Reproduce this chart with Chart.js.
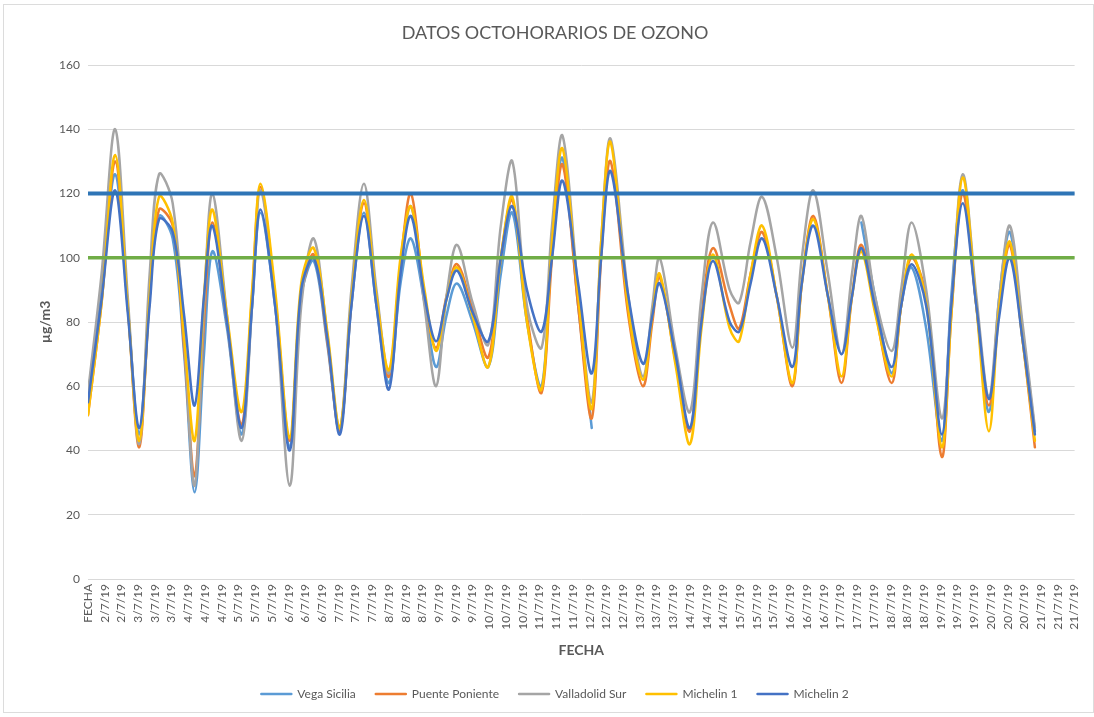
<!DOCTYPE html>
<html lang="es">
<head>
<meta charset="utf-8">
<title>Datos octohorarios de ozono</title>
<script src="https://cdn.jsdelivr.net/npm/chart.js@4.4.1/dist/chart.umd.min.js"></script>
<style>
    html, body { margin: 0; padding: 0; background: #fff; }
    #wrap { position: relative; width: 1094px; height: 717px; }
    #frame { position: absolute; left: 3px; top: 4px; right: 0; bottom: 4px; border: 1px solid #dcdcdc; pointer-events: none; }
</style>
</head>
<body>
<div id="wrap">
    <canvas id="ozono" width="1094" height="717"></canvas>
    <div id="frame"></div>
</div>
<script>
// Etiquetas del eje X (una cada 8 horas)
const etiquetasX = ['FECHA',
    '2/7/19', '2/7/19',
    '3/7/19', '3/7/19', '3/7/19', '4/7/19', '4/7/19', '4/7/19',
    '5/7/19', '5/7/19', '5/7/19', '6/7/19', '6/7/19', '6/7/19',
    '7/7/19', '7/7/19', '7/7/19', '8/7/19', '8/7/19', '8/7/19',
    '9/7/19', '9/7/19', '9/7/19', '10/7/19', '10/7/19', '10/7/19',
    '11/7/19', '11/7/19', '11/7/19', '12/7/19', '12/7/19', '12/7/19',
    '13/7/19', '13/7/19', '13/7/19', '14/7/19', '14/7/19', '14/7/19',
    '15/7/19', '15/7/19', '15/7/19', '16/7/19', '16/7/19', '16/7/19',
    '17/7/19', '17/7/19', '17/7/19', '18/7/19', '18/7/19', '18/7/19',
    '19/7/19', '19/7/19', '19/7/19', '20/7/19', '20/7/19', '20/7/19',
    '21/7/19', '21/7/19', '21/7/19'];

// Horas (desde el inicio de la serie) de los puntos leidos
const horas = [0, 6.5, 13, 19, 24.5, 29.5, 34, 40.5, 46, 51, 55.5, 59.5, 66.5, 73.5, 78.5, 82.5,
    89.5, 96.5, 102, 108, 114.5, 120.5, 126, 132, 138, 144, 149.5, 154.5, 161, 166.5, 171.5, 176.5,
    184, 191.5, 197.5, 203, 210, 217, 222, 227, 234.5, 241, 245.5, 250, 258.5, 265.5, 270, 273.5,
    281, 288, 293.5, 299, 307, 311.5, 317, 322.5, 329.5, 337, 341.5, 347, 354, 360.5, 365.5, 370,
    376.5, 384.5, 389, 394, 401, 408.5, 413, 418.5, 425, 431, 436, 441, 447, 453];

const vegaSicilia = [57, 90, 126, 85, 45, 88, 113, 106, 70, 27, 70, 102, 78, 45, 85, 114,
    85, 41, 88, 99, 73, 46, 85, 114, 85, 61, 92, 106, 86, 66, 82, 92,
    80, 66, 95, 114, 80, 60, 105, 131, 85, 47, null, null, null, null, null, null,
    null, null, null, null, null, null, null, null, null, null, null, null, null, null, null, 111,
    88, 64, 85, 97, 78, 43, 88, 121, 85, 52, 88, 108, 78, 46];

const puentePoniente = [51, 86, 130, 85, 41, 88, 115, 110, 72, 32, 80, 111, 80, 48, 88, 122,
    88, 43, 88, 101, 74, 46, 86, 117, 87, 63, 98, 120, 88, 72, 88, 98,
    84, 69, 100, 118, 82, 58, 100, 129, 85, 50, 100, 130, 82, 60, 80, 94,
    68, 46, 82, 103, 85, 78, 95, 108, 88, 60, 92, 113, 88, 61, 88, 104,
    84, 61, 85, 100, 88, 38, 82, 120, 85, 54, 85, 104, 75, 41];

const valladolidSur = [58, 95, 140, 88, 42, 95, 126, 117, 75, 29, 85, 120, 82, 43, 85, 121,
    86, 29, 85, 106, 76, 47, 90, 123, 90, 64, 97, 116, 85, 60, 88, 104,
    86, 73, 110, 130, 85, 72, 110, 138, 90, 55, 105, 137, 88, 63, 85, 100,
    72, 52, 88, 111, 90, 86, 105, 119, 100, 72, 100, 121, 95, 70, 95, 113,
    88, 71, 90, 111, 90, 50, 85, 126, 88, 57, 88, 110, 80, 47];

const michelin1 = [51, 86, 132, 85, 43, 88, 119, 111, 75, 43, 88, 115, 82, 52, 90, 123,
    90, 44, 92, 103, 77, 47, 87, 118, 88, 65, 100, 116, 90, 71, 87, 97,
    82, 66, 100, 119, 80, 59, 105, 134, 88, 53, 105, 136, 84, 62, 82, 95,
    67, 42, 78, 101, 78, 74, 95, 110, 88, 61, 92, 112, 88, 63, 88, 102,
    83, 63, 85, 101, 86, 41, 82, 125, 85, 46, 85, 105, 75, 43];

const michelin2 = [55, 87, 121, 83, 47, 85, 112, 108, 82, 54, 88, 110, 80, 47, 85, 115,
    85, 40, 90, 100, 75, 45, 85, 113, 85, 59, 95, 113, 88, 74, 87, 96,
    83, 74, 100, 116, 90, 77, 100, 124, 92, 64, 100, 127, 88, 67, 82, 92,
    70, 47, 80, 99, 80, 77, 92, 106, 88, 66, 92, 110, 88, 70, 88, 103,
    85, 66, 85, 98, 85, 45, 85, 117, 85, 56, 82, 100, 75, 45];

// Valores de referencia (lineas horizontales)
const valorObjetivo = 120;
const valorGuia = 100;

const TEXTO = '#595959';
const FUENTE = 'Lato, "Open Sans", sans-serif';

function serie(nombre, valores, color, orden) {
    return {
        label: nombre,
        data: horas.map((h, i) => ({ x: h, y: valores[i] })),
        borderColor: color,
        backgroundColor: color,
        borderWidth: 2.5,
        order: orden
    };
}

function referencia(valor, color, ancho) {
    return {
        label: 'ref ' + valor,
        data: [{ x: 0, y: valor }, { x: 472, y: valor }],
        borderColor: color,
        backgroundColor: color,
        borderWidth: ancho,
        tension: 0,
        order: 0
    };
}

const ctx = document.getElementById('ozono').getContext('2d');
const chart = new Chart(ctx, {
    type: 'line',
    data: {
        datasets: [
            serie('Vega Sicilia', vegaSicilia, '#5B9BD5', 5),
            serie('Puente Poniente', puentePoniente, '#ED7D31', 4),
            serie('Valladolid Sur', valladolidSur, '#A5A5A5', 3),
            serie('Michelin 1', michelin1, '#FFC000', 2),
            serie('Michelin 2', michelin2, '#4472C4', 1),
            referencia(valorObjetivo, '#2E75B6', 4),
            referencia(valorGuia, '#70AD47', 3.5)
        ]
    },
    options: {
        responsive: false,
        animation: false,
        layout: { padding: { left: 27, right: 11, top: 0, bottom: 7 } },
        elements: {
            point: { radius: 0 },
            line: { tension: 0.35, borderCapStyle: 'round', borderJoinStyle: 'round' }
        },
        plugins: {
            title: {
                display: true,
                text: 'DATOS OCTOHORARIOS DE OZONO',
                color: TEXTO,
                font: { family: FUENTE, size: 18, weight: 'normal' },
                padding: { top: 22, bottom: 21.4 }
            },
            legend: {
                position: 'bottom',
                labels: {
                    color: TEXTO,
                    font: { family: FUENTE, size: 12 },
                    boxWidth: 30,
                    boxHeight: 0,
                    padding: 20,
                    filter: item => item.datasetIndex < 5,
                    sort: (a, b) => a.datasetIndex - b.datasetIndex
                }
            },
            tooltip: { enabled: false }
        },
        scales: {
            x: {
                type: 'linear',
                min: 0,
                max: 472,
                grid: { display: false, drawTicks: false },
                border: { display: false },
                ticks: {
                    stepSize: 8,
                    autoSkip: false,
                    minRotation: 90,
                    maxRotation: 90,
                    padding: 5,
                    color: TEXTO,
                    font: { family: FUENTE, size: 12 },
                    callback: v => etiquetasX[Math.round(v / 8)]
                },
                title: {
                    display: true,
                    text: 'FECHA',
                    color: TEXTO,
                    font: { family: FUENTE, size: 14, weight: 'bold' },
                    padding: { top: 0, bottom: 9.6 }
                },
                afterFit: s => { s.height = 89; }
            },
            y: {
                min: 0,
                max: 160,
                grid: { color: '#d9d9d9', drawTicks: false },
                border: { display: false },
                ticks: {
                    stepSize: 20,
                    padding: 8,
                    color: TEXTO,
                    font: { family: FUENTE, size: 12 }
                },
                title: {
                    display: true,
                    text: 'µg/m3',
                    color: TEXTO,
                    font: { family: FUENTE, size: 14, weight: 'bold' },
                    padding: { top: 10, bottom: 0 }
                },
                afterFit: s => { s.width = 61; }
            }
        }
    }
});
</script>
</body>
</html>
